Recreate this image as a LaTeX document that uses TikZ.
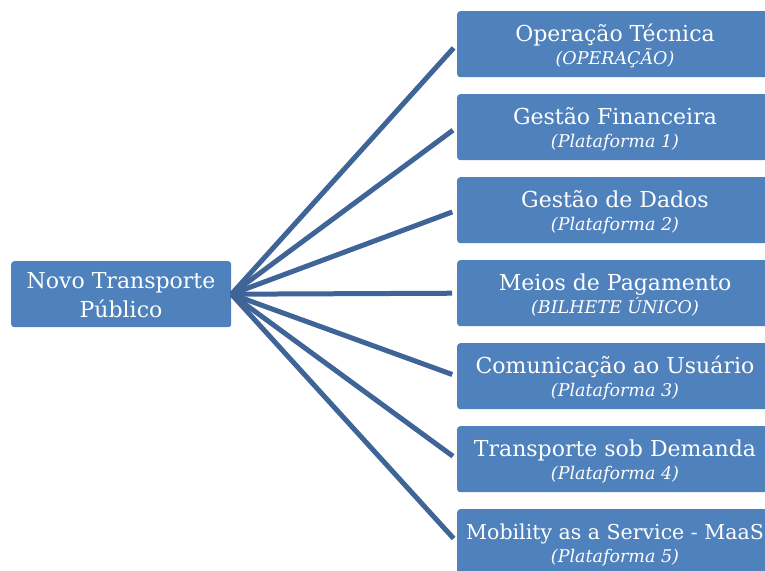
\documentclass[tikz,border=0pt]{standalone}
\usepackage{fontspec}
\setmainfont{DejaVu Serif}
\definecolor{boxblue}{HTML}{4F81BD}
\definecolor{linkblue}{HTML}{3F6598}
\tikzset{
  x=1pt,y=-1pt,
  catbox/.style={fill=boxblue,rounded corners=3pt,minimum width=316pt,minimum height=66pt,anchor=north west,inner sep=0pt},
  rootbox/.style={fill=boxblue,rounded corners=3pt,minimum width=220pt,minimum height=66pt,anchor=north west,inner sep=0pt},
  link/.style={draw=linkblue,line width=5pt,shorten >=5pt},
  ttl/.style={text=white,font=\fontsize{22}{26}\selectfont,inner sep=0pt},
  sub/.style={text=white,font=\fontsize{17.5}{20}\selectfont\itshape,inner sep=0pt}
}
\begin{document}
\begin{tikzpicture}
\useasboundingbox (0,0) rectangle (765,570);
\clip (0,0) rectangle (765,570);
\node[rootbox] (root) at (11,261) {};
\node[ttl,anchor=base] (roottext1) at (121,288) {Novo Transporte};
\node[ttl,anchor=base] (roottext2) at (121,317) {Público};
\foreach \i/\t/\s in {
  1/{Operação Técnica}/{(OPERAÇÃO)},
  2/{Gestão Financeira}/{(Plataforma 1)},
  3/{Gestão de Dados}/{(Plataforma 2)},
  4/{Meios de Pagamento}/{(BILHETE ÚNICO)},
  5/{Comunicação ao Usuário}/{(Plataforma 3)},
  6/{Transporte sob Demanda}/{(Plataforma 4)},
  7/{\fontsize{20.5}{24}\selectfont Mobility as a Service - MaaS}/{(Plataforma 5)}}{
  \pgfmathsetmacro{\top}{11+83*(\i-1)}
  \node[catbox] (b\i) at (457,\top) {};
  \node[ttl,anchor=base] (t\i) at (615,\top+30.5) {\t};
  \node[sub,anchor=base] (s\i) at (615,\top+53.5) {\s};
  \draw[link] (root.east) -- (b\i.west);
}
\end{tikzpicture}
\end{document}
